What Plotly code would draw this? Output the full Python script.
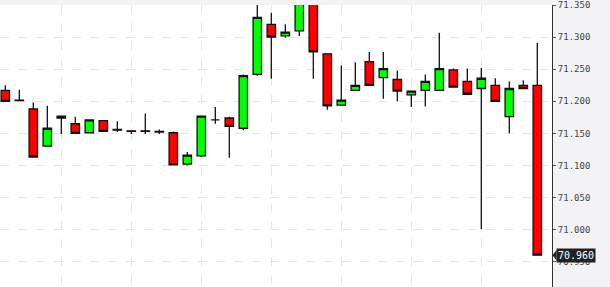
import plotly.graph_objects as go

idx = list(range(39))
opens = [71.217, 71.202, 71.188, 71.130, 71.174, 71.165, 71.151, 71.170, 71.155, 71.154,
         71.154, 71.152, 71.151, 71.102, 71.115, 71.171, 71.174, 71.158, 71.242, 71.320,
         71.302, 71.310, 71.362, 71.274, 71.194, 71.217, 71.262, 71.237, 71.234, 71.210,
         71.217, 71.217, 71.249, 71.231, 71.220, 71.225, 71.176, 71.225, 71.225]
highs = [71.225, 71.218, 71.198, 71.193, 71.177, 71.176, 71.171, 71.170, 71.169, 71.154,
         71.181, 71.156, 71.153, 71.121, 71.177, 71.191, 71.176, 71.242, 71.352, 71.338,
         71.320, 71.365, 71.365, 71.274, 71.256, 71.261, 71.277, 71.277, 71.248, 71.216,
         71.242, 71.307, 71.251, 71.251, 71.252, 71.236, 71.231, 71.233, 71.291]
lows = [71.200, 71.200, 71.113, 71.130, 71.149, 71.150, 71.150, 71.153, 71.152, 71.149,
        71.149, 71.149, 71.101, 71.100, 71.113, 71.165, 71.112, 71.155, 71.240, 71.235,
        71.299, 71.302, 71.235, 71.187, 71.194, 71.217, 71.225, 71.204, 71.200, 71.191,
        71.192, 71.217, 71.222, 71.211, 71.001, 71.200, 71.150, 71.220, 70.960]
closes = [71.200, 71.201, 71.113, 71.158, 71.177, 71.150, 71.171, 71.153, 71.156, 71.153,
          71.153, 71.153, 71.101, 71.116, 71.177, 71.171, 71.161, 71.240, 71.331, 71.300,
          71.308, 71.360, 71.277, 71.193, 71.202, 71.225, 71.225, 71.251, 71.216, 71.216,
          71.231, 71.251, 71.222, 71.211, 71.236, 71.200, 71.220, 71.220, 70.960]
y_ticks = [70.95, 71.0, 71.05, 71.1, 71.15, 71.2, 71.25, 71.3, 71.35]
x_grid = [4, 9, 14, 19, 24, 29, 34]
last_price = closes[-1]

fig = go.Figure(go.Candlestick(
    x=idx, open=opens, high=highs, low=lows, close=closes,
    increasing=dict(fillcolor="#00ff00", line=dict(color="#111111", width=1.3)),
    decreasing=dict(fillcolor="#ff0000", line=dict(color="#111111", width=1.3)),
    whiskerwidth=0, hoverinfo="skip",
))

fig.update_layout(
    width=610, height=287,
    margin=dict(l=0, r=58, t=0, b=0),
    paper_bgcolor="#f3f3f5", plot_bgcolor="#ffffff",
    showlegend=False, boxgap=0.14,
    xaxis=dict(range=[-0.379, 39.05], rangeslider=dict(visible=False),
               tickvals=x_grid, showticklabels=False, showgrid=True,
               gridcolor="#e6e6e6", griddash="dash", gridwidth=1.3,
               zeroline=False, showline=False, ticks=""),
    yaxis=dict(range=[70.9104, 71.3502], side="right", tickvals=y_ticks,
               tickformat=".3f", showgrid=True, gridcolor="#e6e6e6",
               griddash="dash", gridwidth=1.3, zeroline=False,
               showline=True, linecolor="#333333", linewidth=1,
               ticks="outside", ticklen=3, tickcolor="#555555",
               ticklabeloverflow="allow",
               tickfont=dict(family="DejaVu Sans Mono", size=9, color="#444444")),
)

fig.add_shape(type="path", xref="paper", yref="y",
              path=f"M 1.001,{last_price} L 1.008,{last_price+0.008} L 1.008,{last_price-0.008} Z",
              fillcolor="#222222", line=dict(width=0))
fig.add_annotation(xref="paper", yref="y", x=1.007, y=last_price, xanchor="left",
                   yanchor="middle", text=f"{last_price:.3f}", showarrow=False,
                   bgcolor="#222222", borderpad=1,
                   font=dict(family="DejaVu Sans Mono", size=10, color="#ffffff"))

fig.write_html("out.html")
